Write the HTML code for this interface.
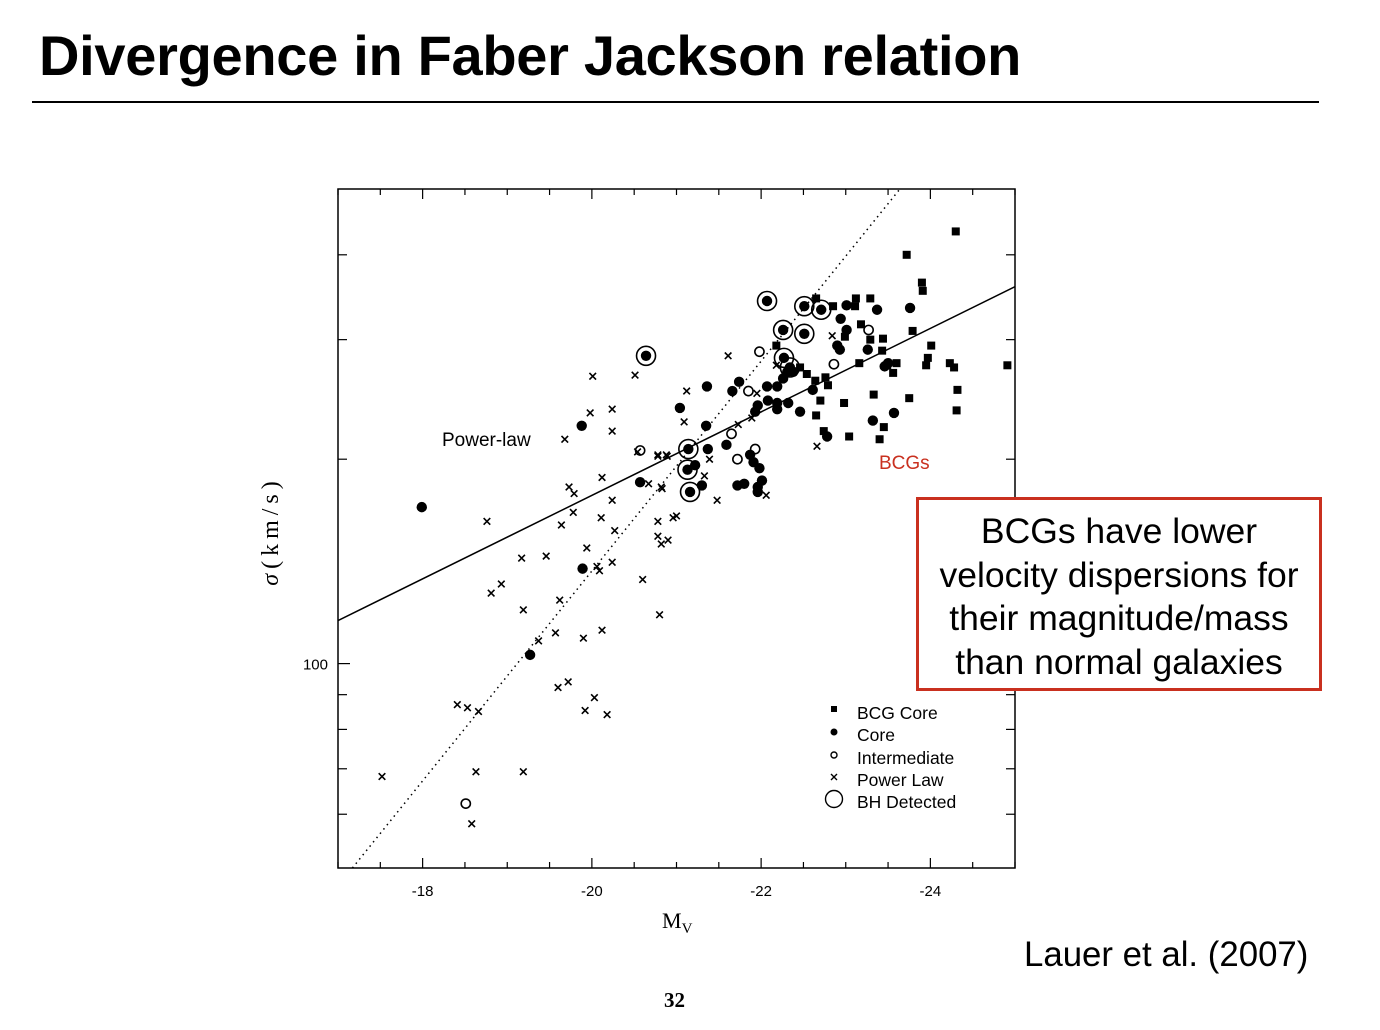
<!DOCTYPE html>
<html><head><meta charset="utf-8">
<style>
body{margin:0;width:1380px;height:1030px;background:#fff;position:relative;overflow:hidden;font-family:"Liberation Sans",sans-serif;}
.abs{position:absolute;}
</style></head>
<body>
<div class="abs" style="left:39px;top:23px;font-size:56px;font-weight:bold;color:#000;white-space:nowrap;letter-spacing:-0.3px">Divergence in Faber Jackson relation</div>
<div class="abs" style="left:32px;top:101px;width:1287px;height:1.5px;background:#000"></div>
<svg id="chart" class="abs" style="left:0;top:0" width="1380" height="1030"></svg>
<div class="abs" style="left:916px;top:497px;font-size:35.5px;line-height:43.5px;text-align:center;padding-top:10px;box-sizing:border-box;width:406px;height:194px;border:3px solid #c9301f;background:#fff;white-space:nowrap">BCGs have lower<br>velocity dispersions for<br>their magnitude/mass<br>than normal galaxies</div>
<div class="abs" style="left:1024px;top:935px;font-size:34.8px;white-space:nowrap">Lauer et al. (2007)</div>
<div class="abs" style="left:664px;top:988px;font-size:21px;font-weight:bold;font-family:'Liberation Serif',serif">32</div>
<script>
const bcgM=[-24.30,-23.72,-23.90,-23.91,-22.65,-22.85,-23.12,-23.11,-23.29,-23.18,-23.79,-22.99,-23.29,-23.44,-22.18,-24.01,-23.43,-23.97,-23.95,-23.16,-23.60,-23.56,-23.49,-24.23,-24.28,-24.91,-22.46,-22.54,-22.64,-22.76,-22.79,-24.32,-22.70,-22.98,-23.33,-23.75,-24.31,-22.65,-23.45,-22.74,-23.04,-23.40];
const bcgS=[433,400,364,354,345,336,345,336,345,316,309,303,300,301,294,294,289,282,275,277,277,268,275,277,273,275,273,267,261,264,257,253,244,242,249,246,236,232,223,220,216,214];
const coreM=[-23.01,-23.37,-23.76,-22.94,-23.01,-22.90,-22.93,-23.26,-23.50,-23.46,-22.61,-22.46,-23.32,-23.57,-22.78,-21.36,-21.74,-21.66,-22.07,-22.19,-22.08,-22.19,-22.19,-22.32,-21.96,-21.93,-21.04,-21.35,-21.59,-21.37,-21.22,-21.30,-21.72,-21.80,-21.87,-21.91,-21.98,-22.01,-21.96,-21.96,-22.31,-22.26,-22.38,-19.88,-17.99,-20.57,-19.89,-19.27];
const coreS=[337,332,334,322,310,294,290,290,277,274,253,235,228,234,216,256,260,252,256,256,244,242,237,242,240,235,238,224,210,207,196,183,183,184,203,198,194,186,182,179,269,263,269,224,170,185,138,103];
const bhM=[-22.07,-22.51,-22.71,-22.26,-22.51,-22.27,-20.64,-21.14,-21.13,-21.16,-22.34];
const bhS=[342,336,332,310,306,282,284,207,193,179,273];
const interM=[-23.27,-21.98,-22.86,-21.85,-21.65,-21.93,-21.72,-20.57,-18.51];
const interS=[310,288,276,252,218,207,200,206,62.2];
const plM=[-21.61,-21.12,-21.09,-22.84,-22.18,-21.95,-21.73,-21.89,-20.78,-20.89,-21.39,-20.67,-20.83,-21.33,-21.48,-22.06,-22.66,-21.00,-20.01,-20.51,-19.98,-20.24,-20.24,-19.68,-20.54,-20.78,-20.88,-20.82,-19.73,-19.79,-20.12,-20.24,-19.78,-18.76,-19.64,-20.11,-20.78,-20.96,-20.27,-20.78,-20.82,-20.90,-19.94,-19.17,-19.46,-20.06,-20.09,-20.24,-20.60,-18.93,-18.81,-20.80,-19.19,-19.62,-19.57,-19.37,-19.90,-20.12,-19.60,-19.72,-20.03,-19.92,-20.18,-18.41,-18.53,-18.66,-17.52,-18.63,-19.19,-18.58];
const plS=[284,252,227,304,275,250,225,230,202,202,200,184,181,189,174,177,209,165,265,266,234,237,220,214,205,203,203,182,182,178,188,174,167,162,160,164,162,164,157,154,150,152,148,143,144,139,137,141,133,131,127,118,120,124,111,108,109,112,92.2,94,89.1,85.3,84.1,87,86.1,85,68.2,69.3,69.3,58.1];
const powerLawLine=[[-17,115.7],[-25,359]];
const steepLine=[[-17.17,50],[-23.64,500]];
const xTicks=[-18,-20,-22,-24];
const yTickVals=[60,70,80,90,100,200,300,400];
const yLabelVals=[100];

const X0=338,X1=1015,Y0=189,Y1=868;
const MMIN=-17,MMAX=-25,SMIN=50,SMAX=500;
function xs(m){return X0+(m-MMIN)/(MMAX-MMIN)*(X1-X0);}
function ys(s){return Y1-(Math.log10(s)-Math.log10(SMIN))/(Math.log10(SMAX)-Math.log10(SMIN))*(Y1-Y0);}
const svg=document.getElementById('chart');
const NS='http://www.w3.org/2000/svg';
function mk(tag,at,parent){const e=document.createElementNS(NS,tag);for(const k in at)e.setAttribute(k,at[k]);(parent||svg).appendChild(e);return e;}

const frame=mk('rect',{x:X0,y:Y0,width:X1-X0,height:Y1-Y0,fill:'none',stroke:'#000','stroke-width':1.5});


for(let m=-17;m>=-25;m-=0.5){
  const x=xs(m);const L=(Math.abs(m%2)===0)?10:6;
  const t1=mk('line',{x1:x,x2:x,y1:Y1,y2:Y1-L,stroke:'#000','stroke-width':1.2});
  
  
  const t2=mk('line',{x1:x,x2:x,y1:Y0,y2:Y0+L,stroke:'#000','stroke-width':1.2});
  
  
}
xTicks.forEach(m=>{
  const t=mk('text',{x:xs(m),y:896,'font-size':15,'text-anchor':'middle','font-family':'Liberation Sans, sans-serif'});
  t.textContent=String(m);
  
  
});
yTickVals.forEach(v=>{
  const y=ys(v);const L=(v===100)?12:9;
  const a=mk('line',{x1:X0,x2:X0+L,y1:y,y2:y,stroke:'#000','stroke-width':1.2});
  
  
  const b=mk('line',{x1:X1,x2:X1-L,y1:y,y2:y,stroke:'#000','stroke-width':1.2});
  
  
});
yLabelVals.forEach(v=>{
  const t=mk('text',{x:328,y:ys(v)+6,'font-size':15,'text-anchor':'end','font-family':'Liberation Sans, sans-serif'});
  t.textContent=v;
  
  
});
const xt=mk('text',{x:662,y:928,'font-size':22,'font-family':'Liberation Serif, serif'});
xt.innerHTML='M<tspan font-size="15" dy="5">V</tspan>';


const yt=mk('text',{x:0,y:0,'font-size':24,'letter-spacing':5,'font-family':'Liberation Serif, serif','text-anchor':'middle',transform:'translate(278,531) rotate(-90)'});
yt.innerHTML='<tspan font-style="italic">σ</tspan>(km/s)';



const cp=mk('clipPath',{id:'cp'});mk('rect',{x:X0,y:Y0,width:X1-X0,height:Y1-Y0},cp);
const l1=mk('line',{x1:xs(powerLawLine[0][0]),y1:ys(powerLawLine[0][1]),x2:xs(powerLawLine[1][0]),y2:ys(powerLawLine[1][1]),stroke:'#000','stroke-width':1.5,'clip-path':'url(#cp)'});


const l2=mk('line',{x1:xs(steepLine[0][0]),y1:ys(steepLine[0][1]),x2:xs(steepLine[1][0]),y2:ys(steepLine[1][1]),stroke:'#000','stroke-width':1.5,'stroke-dasharray':'1.5 4','clip-path':'url(#cp)'});



function square(x,y){return mk('rect',{x:x-4,y:y-4,width:8,height:8,fill:'#000'});}
function dot(x,y){return mk('circle',{cx:x,cy:y,r:5.2,fill:'#000'});}
function ring(x,y,r){return mk('circle',{cx:x,cy:y,r:r,fill:'none',stroke:'#000','stroke-width':1.6});}
function cross(x,y){return mk('path',{d:`M${x-3.3},${y-3.3}L${x+3.3},${y+3.3}M${x+3.3},${y-3.3}L${x-3.3},${y+3.3}`,stroke:'#000','stroke-width':1.6,fill:'none'});}

plM.forEach((m,i)=>{const e=cross(xs(m),ys(plS[i]));
  
  });
interM.forEach((m,i)=>{const e=ring(xs(m),ys(interS[i]),4.6);
  
  });
coreM.forEach((m,i)=>{const e=dot(xs(m),ys(coreS[i]));
  
  });
bcgM.forEach((m,i)=>{const e=square(xs(m),ys(bcgS[i]));
  
  });
bhM.forEach((m,i)=>{const x=xs(m),y=ys(bhS[i]);
  const d=dot(x,y);
  
  
  const r=ring(x,y,9.5);
  
  });

function label(txt,x,y,size,color){const t=mk('text',{x:x,y:y,'font-size':size,fill:color,'font-family':'Liberation Sans, sans-serif'});t.textContent=txt;return t;}
const pl=label('Power-law',442,446,19,'#000');


const bc=label('BCGs',879,469,19,'#c9301f');



const legY=[713,735,758,780,802];
const legT=['BCG Core','Core','Intermediate','Power Law','BH Detected'];
const lm=[mk('rect',{x:831,y:legY[0]-7,width:6,height:6,fill:'#000'}),
mk('circle',{cx:834,cy:legY[1]-3,r:3.5,fill:'#000'}),
mk('circle',{cx:834,cy:legY[2]-3,r:3,fill:'none',stroke:'#000','stroke-width':1.4}),
mk('path',{d:`M831,${legY[3]-6}l6,6m0,-6l-6,6`,stroke:'#000','stroke-width':1.4}),
mk('circle',{cx:834,cy:legY[4]-3,r:8.5,fill:'none',stroke:'#000','stroke-width':1.4})];
lm.forEach(e=>{
  
  });
legT.forEach((t,i)=>{const e=label(t,857,legY[i]+6,17.5,'#000');
  
  });
</script>
</body></html>
